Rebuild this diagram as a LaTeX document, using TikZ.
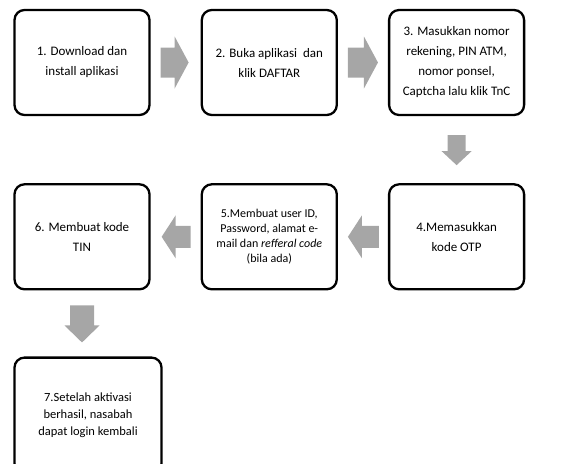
\documentclass[tikz,border=0pt]{standalone}
\usepackage{fontspec}
\setmainfont{Carlito}
\usepackage{tikz}
\usetikzlibrary{positioning, calc}
\definecolor{myarrowgrey}{RGB}{166, 166, 166}

\begin{document}
\begin{tikzpicture}[node distance = 50pt, box/.style={draw = black, line width = 2.3pt, rounded corners = 10pt, minimum width = 135pt, minimum height = 105pt, align = center, font = \fontsize{13}{20}\selectfont},
  flow/.style n args = {5}{fill = myarrowgrey, draw = none, to path = {
    ($(\tikztostart)!#4!(\tikztotarget)$) coordinate (flow-tail)
    ($(\tikztotarget)!#5!(\tikztostart)$) coordinate (flow-tip)
    ($(flow-tip)!#3!(flow-tail)$) coordinate (flow-back)
    ($(flow-tail)!#1!90:(flow-tip)$) -- ($(flow-back)!#1!-90:(flow-tail)$) -- ($(flow-back)!#2!-90:(flow-tail)$) -- (flow-tip)
    -- ($(flow-back)!#2!90:(flow-tail)$) -- ($(flow-back)!#1!90:(flow-tail)$) -- ($(flow-tail)!#1!-90:(flow-tip)$) -- cycle}}]
  \useasboundingbox (0pt, 0pt) rectangle (562pt, -463pt);

  % nodes
  \node [box] at (82pt, -62.5pt) (box-1) {1. Download dan\\install aplikasi};
  \node [box] [right = of box-1] (box-2) {2. Buka aplikasi \ dan\\klik DAFTAR};
  \node [box] [right = of box-2] (box-3) {3. Masukkan nomor\\rekening, PIN ATM,\\nomor ponsel,\\Captcha lalu klik TnC};
  \node [box] [below = 67pt of box-3] (box-4) {4.Memasukkan\\kode OTP};
  \node [box, font = \fontsize{12}{15}\selectfont] [left = of box-4] (box-5) {5.Membuat user ID,\\Password, alamat e-\\mail dan \textit{refferal code}\\(bila ada)};
  \node [box] [left = of box-5] (box-6) {6. Membuat kode\\TIN};
  \node [box, minimum width = 147pt, minimum height = 116pt, font = \fontsize{12.5}{17}\selectfont] [below right = 66pt and 0pt of box-6.south west] (box-7) {7.Setelah aktivasi\\berhasil, nasabah\\dapat login kembali};

  % edges
  \path (box-1.east) edge [flow = {15pt}{26pt}{14pt}{10pt}{12pt}] (box-2.west);
  \path (box-2.east) edge [flow = {15pt}{26pt}{14pt}{10pt}{10pt}] (box-3.west);
  \path (box-3.south) edge [flow = {9pt}{15pt}{14pt}{19pt}{18pt}] (box-4.north);
  \path (box-4.west) edge [flow = {11pt}{21.5pt}{14pt}{9pt}{10pt}] (box-5.east);
  \path (box-5.west) edge [flow = {11pt}{21.5pt}{14pt}{10pt}{11pt}] (box-6.east);
  \path (box-6.south) edge [flow = {12pt}{17.5pt}{17pt}{15pt}{14pt}] (box-6.south |- box-7.north);

\end{tikzpicture}
\end{document}
